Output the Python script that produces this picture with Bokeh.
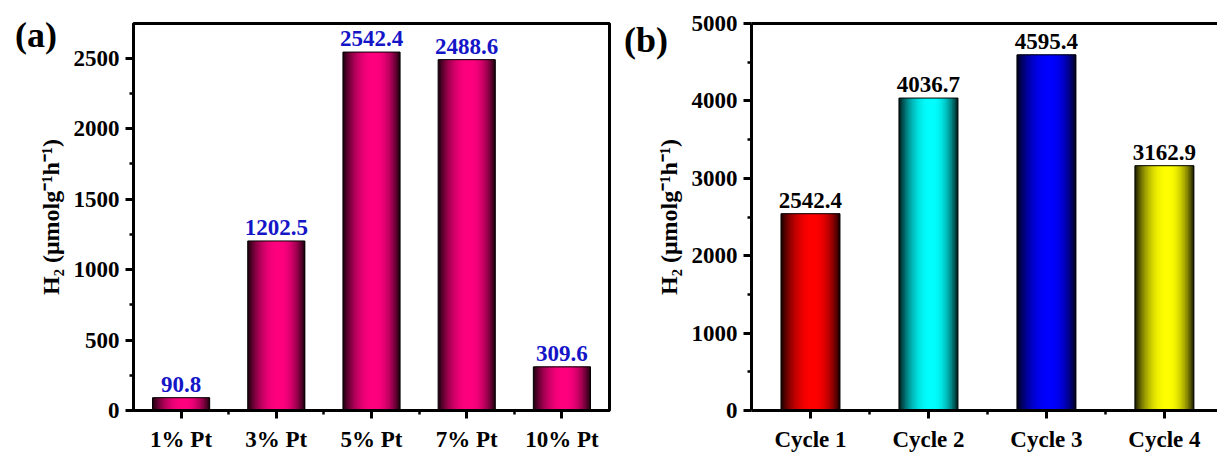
from bokeh.plotting import figure
from bokeh.models import FixedTicker, LinearAxis, Range1d, ColumnDataSource, Div
from bokeh.layouts import row
from bokeh.core.properties import value
from bokeh.embed import file_html
from bokeh.resources import INLINE

# ---- data ----
cats_a = ["1% Pt", "3% Pt", "5% Pt", "7% Pt", "10% Pt"]
vals_a = [90.8, 1202.5, 2542.4, 2488.6, 309.6]
color_a = "#FF0080"
label_color_a = "#1515C8"

cats_b = ["Cycle 1", "Cycle 2", "Cycle 3", "Cycle 4"]
vals_b = [2542.4, 4036.7, 4595.4, 3162.9]
colors_b = ["#FF0000", "#00FFFF", "#0000FF", "#FFFF00"]
label_color_b = "#000000"

yticks_a = [0, 500, 1000, 1500, 2000, 2500]
yticks_b = [0, 1000, 2000, 3000, 4000, 5000]
ylabel = "H\u2082 (\u03bcmolg\u207b\u00b9h\u207b\u00b9)"
panel_labels = ["(a)", "(b)"]

FONT = "Liberation Serif"


def hex_to_rgb(h):
    h = h.lstrip("#")
    return tuple(int(h[i:i + 2], 16) for i in (0, 2, 4))


def profile(t, c=0.55):
    s = (c - t) / c if t < c else (t - c) / (1 - c)
    return 0.1 + 0.9 * (1 - s ** 2.2)


def shaded_bars(p, xs, vals, base_colors, width, n=40):
    sl, sr, stop, scol = [], [], [], []
    for x, v, col in zip(xs, vals, base_colors):
        r, g, b = hex_to_rgb(col)
        x0 = x - width / 2
        x1 = x + width / 2
        for k in range(n):
            t = (k + 0.5) / n
            f = profile(t)
            left = x0 + k * width / n
            sl.append(left)
            sr.append(min(x1, left + 2.5 * width / n))
            stop.append(v)
            scol.append("#%02x%02x%02x" % (int(r * f), int(g * f), int(b * f)))
    src = ColumnDataSource(dict(left=sl, right=sr, top=stop, color=scol))
    p.quad(left="left", right="right", top="top", bottom=0, fill_color="color",
           line_color=None, source=src)
    p.vbar(x=xs, top=vals, bottom=0, width=width, fill_color=None,
           line_color="black", line_width=1)


def style(p, xax, yax):
    for ax in (xax, yax):
        ax.axis_line_width = 3
        ax.axis_line_color = "black"
        ax.major_tick_line_width = 3
        ax.major_tick_line_color = "black"
        ax.minor_tick_line_width = 2.5
        ax.minor_tick_line_color = "black"
        ax.major_tick_out = 8
        ax.major_tick_in = 0
        ax.minor_tick_out = 4
        ax.minor_tick_in = 0
        ax.major_label_text_font = FONT
        ax.major_label_text_font_style = "bold"
        ax.major_label_text_color = "black"
    xax.major_label_text_font_size = "23px"
    yax.major_label_text_font_size = "23px"
    p.xgrid.visible = False
    p.ygrid.visible = False
    yax.axis_label = ylabel
    yax.axis_label_text_font = FONT
    yax.axis_label_text_font_style = "bold"
    yax.axis_label_text_font_size = "24px"
    yax.axis_label_text_color = "black"
    yax.axis_label_standoff = 7
    yax.major_label_standoff = 6
    xax.major_label_standoff = 8


def panel_div(text, left, top):
    return Div(text=text, width=60, height=45,
               styles={"position": "absolute", "left": f"{left}px", "top": f"{top}px",
                       "font-family": FONT, "font-weight": "bold", "font-size": "36px",
                       "line-height": "1", "color": "black", "z-index": "10"})


# ---- panel (a) ----
xa = list(range(len(cats_a)))
pa = figure(width=615, height=454, output_backend="svg", toolbar_location=None,
            x_range=Range1d(-0.5, len(cats_a) - 0.5), y_range=Range1d(0, 2745),
            min_border_left=133, min_border_right=6, min_border_top=23, min_border_bottom=42)
pa.outline_line_color = "black"
pa.outline_line_width = 3
pa.outline_line_alpha = 1
shaded_bars(pa, xa, vals_a, [color_a] * len(vals_a), 0.6)
pa.text(x=xa, y=vals_a, text=[str(v) for v in vals_a], text_font=value(FONT),
        text_font_style="bold", text_font_size="23px", text_color=label_color_a,
        text_align="center", text_baseline="bottom", y_offset=-6)
xax_a = pa.below[0]
yax_a = pa.left[0]
xax_a.ticker = FixedTicker(ticks=xa, minor_ticks=[i + 0.5 for i in xa[:-1]])
xax_a.major_label_overrides = {i: c for i, c in enumerate(cats_a)}
yax_a.ticker = FixedTicker(ticks=yticks_a, minor_ticks=[t + 250 for t in yticks_a])
style(pa, xax_a, yax_a)

# ---- panel (b) ----
xb = list(range(len(cats_b)))
pb = figure(width=602, height=454, output_backend="svg", toolbar_location=None,
            x_range=Range1d(-0.5, 3.45), y_range=Range1d(0, 5000),
            min_border_left=136, min_border_right=0, min_border_top=23, min_border_bottom=42)
pb.outline_line_color = None
shaded_bars(pb, xb, vals_b, colors_b, 0.5)
pb.text(x=xb, y=vals_b, text=[str(v) for v in vals_b], text_font=value(FONT),
        text_font_style="bold", text_font_size="23px", text_color=label_color_b,
        text_align="center", text_baseline="bottom", y_offset=-6)
xax_b = pb.below[0]
yax_b = pb.left[0]
xax_b.ticker = FixedTicker(ticks=xb, minor_ticks=[i + 0.5 for i in xb[:-1]])
xax_b.major_label_overrides = {i: c for i, c in enumerate(cats_b)}
yax_b.ticker = FixedTicker(ticks=yticks_b, minor_ticks=[t + 500 for t in yticks_b])
style(pb, xax_b, yax_b)
top_ax = LinearAxis(ticker=FixedTicker(ticks=[]), major_label_text_font_size="0px",
                    axis_line_width=3, axis_line_color="black",
                    major_tick_line_color=None, minor_tick_line_color=None)
pb.add_layout(top_ax, "above")

div_a = panel_div(panel_labels[0], 10, 12)
div_b = panel_div(panel_labels[1], 619, 17)

layout = row(pa, pb, div_a, div_b)
open("out.html", "w").write(file_html(layout, INLINE))
